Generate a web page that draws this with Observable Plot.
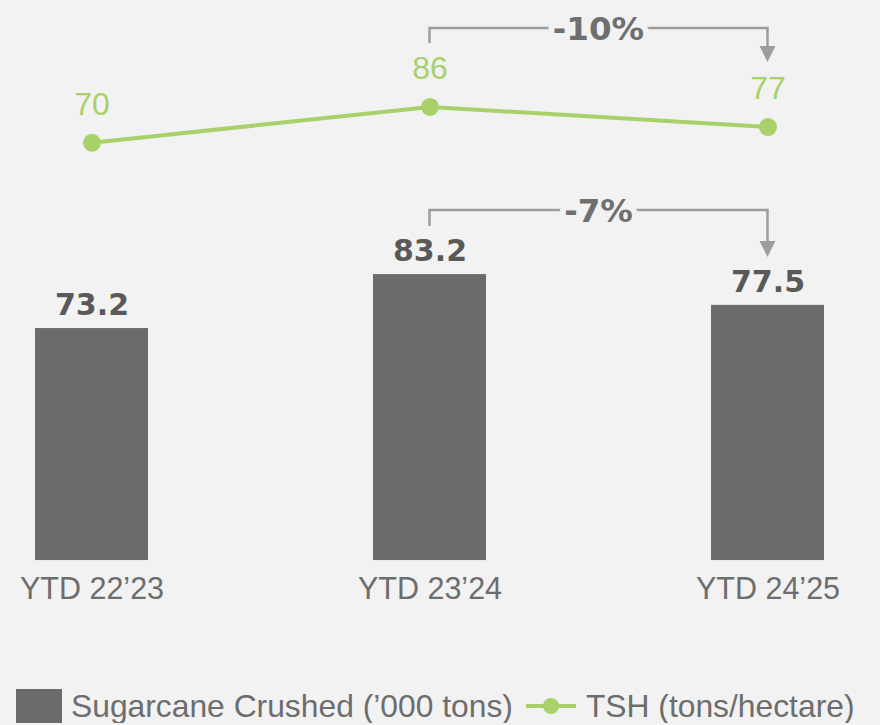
<!DOCTYPE html>
<html>
<head>
<meta charset="utf-8">
<script src="https://cdn.jsdelivr.net/npm/d3@7"></script>
<script src="https://cdn.jsdelivr.net/npm/@observablehq/plot@0.6"></script>
<style>
  html, body { margin: 0; padding: 0; background: #f2f2f2; }
  #chart svg { display: block; }
  .legend { display: flex; align-items: center; margin-top: 49px; padding-left: 16px; height: 34px;
            font-family: "Liberation Sans", Arial, sans-serif; font-size: 31.8px; color: #6d6d6d; white-space: nowrap; }
  .sw-bar { width: 46px; height: 34px; background: #6b6b6b; }
  .lbl1 { margin-left: 9px; }
  .sw-line { margin-left: 13px; display: block; }
  .lbl2 { margin-left: 10px; }
</style>
</head>
<body>
<div id="chart"></div>
<div class="legend">
  <div class="sw-bar"></div><span class="lbl1">Sugarcane Crushed (’000 tons)</span>
  <svg class="sw-line" width="50" height="20"><line x1="0" y1="10" x2="50" y2="10" stroke="#a8d16a" stroke-width="4"/><circle cx="25" cy="10" r="8" fill="#a8d16a"/></svg>
  <span class="lbl2">TSH (tons/hectare)</span>
</div>
<script>
// ---- data ----
const categories = ["YTD 22’23", "YTD 23’24", "YTD 24’25"];
const crushed = [73.2, 83.2, 77.5];          // Sugarcane Crushed ('000 tons)
const tsh = [70, 86, 77];                    // TSH (tons/hectare)
const changes = [                            // annotated changes (from index -> to index)
  {series: "tsh", from: 1, to: 2},
  {series: "crushed", from: 1, to: 2}
];

// ---- styling ----
const GREEN = "#a8d16a", BAR = "#6b6b6b", GRAY = "#9d9d9d";
const REG = "'Liberation Sans', Arial, sans-serif";
const BOLD = "'DejaVu Sans', Verdana, sans-serif";
const barBase = 30.2;                        // bars start from a truncated baseline
// secondary axis: map TSH into the bar scale's units (upper band of the chart)
const tshToY = d3.scaleLinear().domain([0, 100]).range([78.6, 120.08]);

const rows = categories.map((c, i) => ({cat: c, crushed: crushed[i], tsh: tsh[i]}));

const geom = {
  tsh:     {values: tsh, toY: tshToY, rise: 78.5, drop: 15, tip: 34},
  crushed: {values: crushed, toY: v => v, rise: 64, drop: 16, tip: 47}
};

function bracket(c) {
  const g0 = geom[c.series];
  const v = g0.values;
  const pct = Math.round((v[c.to] - v[c.from]) / v[c.from] * 100);
  const label = (pct > 0 ? "+" : "") + pct + "%";
  return (index, scales) => {
    const xs = scales.x;
    const bw = xs.bandwidth ? xs.bandwidth() : (scales.scales && scales.scales.x.bandwidth) || 0;
    const xa = xs(categories[c.from]) + bw / 2;
    const xb = xs(categories[c.to]) + bw / 2;
    const h = scales.y(g0.toY(Math.max(v[c.from], v[c.to]))) - g0.rise;
    const tip = h + g0.tip;
    const g = d3.create("svg:g");
    g.append("path")
      .attr("d", `M${xa},${h + g0.drop}V${h}H${xb}V${tip - 15}`)
      .attr("fill", "none").attr("stroke", GRAY).attr("stroke-width", 2.5);
    g.append("path")
      .attr("d", `M${xb - 8},${tip - 16}L${xb + 8},${tip - 16}L${xb},${tip}Z`)
      .attr("fill", GRAY);
    g.append("text")
      .attr("x", (xa + xb) / 2).attr("y", h).attr("dy", "0.36em")
      .attr("text-anchor", "middle")
      .attr("font-family", BOLD).attr("font-weight", "bold").attr("font-size", 32.5)
      .attr("fill", "#6f6f6f")
      .attr("stroke", "#f2f2f2").attr("stroke-width", 12).attr("stroke-linejoin", "round")
      .attr("paint-order", "stroke")
      .text(label);
    return g.node();
  };
}

const chart = Plot.plot({
  width: 880,
  height: 640,
  marginLeft: 0, marginRight: 0, marginTop: 0, marginBottom: 80,
  style: {background: "transparent", color: "#6d6d6d", fontFamily: REG, overflow: "visible"},
  x: {domain: categories, range: [-78.25, 937.25], paddingInner: 0.666, paddingOuter: 0.333, align: 0.5, axis: null, label: null},
  y: {domain: [0, 134], range: [723, 0], axis: null},
  marks: [
    Plot.barY(rows, {x: "cat", y1: barBase, y2: "crushed", fill: BAR}),
    Plot.text(rows, {x: "cat", y: "crushed", text: d => d.crushed.toFixed(1), dy: -23,
      fontFamily: BOLD, fontWeight: "bold", fontSize: 30, fill: "#595959"}),
    Plot.axisX({tickSize: 0, tickPadding: 17, fontSize: 30.5, fontFamily: REG, label: null}),
    Plot.line(rows, {x: "cat", y: d => tshToY(d.tsh), stroke: GREEN, strokeWidth: 4}),
    Plot.dot(rows, {x: "cat", y: d => tshToY(d.tsh), r: 9, fill: GREEN}),
    Plot.text(rows, {x: "cat", y: d => tshToY(d.tsh), text: d => String(d.tsh), dy: -38,
      fontFamily: REG, fontSize: 32, fill: GREEN}),
    ...changes.map(bracket)
  ]
});
document.getElementById("chart").appendChild(chart);
</script>
</body>
</html>
